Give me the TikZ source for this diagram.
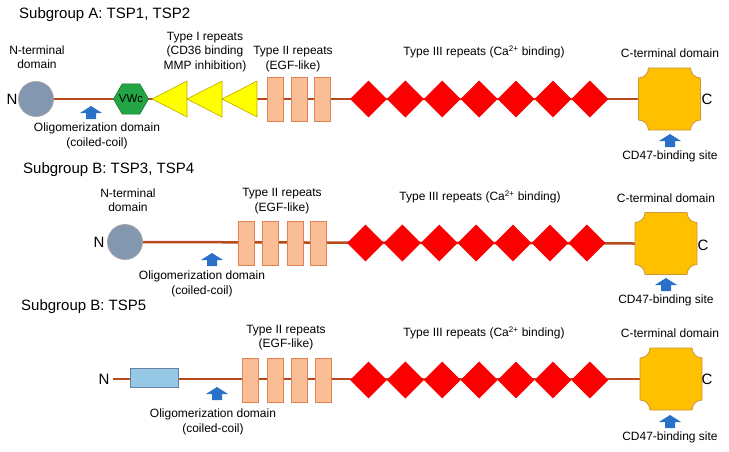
\documentclass[tikz,border=0pt]{standalone}
\usepackage{fontspec}
\setmainfont{Liberation Sans}
\usetikzlibrary{shapes.geometric,backgrounds}
\definecolor{backbone}{RGB}{184,74,30}
\definecolor{nfill}{RGB}{132,151,176}
\definecolor{ndraw}{RGB}{165,165,165}
\definecolor{egffill}{RGB}{250,190,150}
\definecolor{egfdraw}{RGB}{225,130,80}
\definecolor{cared}{RGB}{250,0,0}
\definecolor{trifill}{RGB}{255,255,0}
\definecolor{tridraw}{RGB}{190,170,0}
\definecolor{vgreen}{RGB}{34,165,68}
\definecolor{vdark}{RGB}{20,120,40}
\definecolor{cfill}{RGB}{255,192,0}
\definecolor{cdraw}{RGB}{205,150,60}
\definecolor{arrowblue}{RGB}{40,112,200}
\definecolor{lbfill}{RGB}{150,200,230}
\definecolor{lbdraw}{RGB}{100,130,160}
\newcommand\upmark[2]{\begin{scope}[shift={(#1,#2)}]\fill[arrowblue] (0,0) -- (11,7) -- (5,7) -- (5,13) -- (-5,13) -- (-5,7) -- (-11,7) -- cycle;\end{scope}}
\newcommand\typeone[2]{\begin{scope}[shift={(#1,#2)}]\filldraw[fill=trifill,draw=tridraw,line width=0.6pt] (0,0) -- (35,-18) -- (35,18) -- cycle;\end{scope}}
\newcommand\ctermshape[2]{\begin{scope}[shift={(#1,#2)}]\filldraw[fill=cfill,draw=cdraw,line width=0.8pt] (-31,-21) -- (-31,21) .. controls (-25.5,21) and (-21,25.5) .. (-21,31) -- (21,31) .. controls (21,25.5) and (25.5,21) .. (31,21) -- (31,-21) .. controls (25.5,-21) and (21,-25.5) .. (21,-31) -- (-21,-31) .. controls (-21,-25.5) and (-25.5,-21) .. cycle;\end{scope}}
\begin{document}
\begin{tikzpicture}[x=1pt,y=-1pt,
  lbl/.style={font=\fontsize{12}{14.5}\selectfont, align=center, inner sep=0pt},
  ttl/.style={font=\fontsize{15}{18}\selectfont, anchor=west, inner sep=0pt},
  term/.style={font=\fontsize{15}{18}\selectfont, inner sep=0pt},
  ndom/.style={circle, draw=ndraw, fill=nfill, line width=0.8pt, minimum size=35, inner sep=0pt},
  egf/.style={rectangle, draw=egfdraw, fill=egffill, line width=0.6pt, minimum width=16, minimum height=44, inner sep=0pt},
  ca/.style={diamond, fill=cared, minimum width=37, minimum height=37, inner sep=0pt},
  vwc/.style={regular polygon, regular polygon sides=6, minimum size=35, fill=vgreen, draw=vdark, line width=0.6pt, inner sep=0pt},
  ccore/.style={rectangle, minimum size=62, inner sep=0pt},
  backbonesty/.style={draw=backbone, line width=2.5pt}]
\useasboundingbox (0,0) rectangle (729,451);

% ---------------- Row A ----------------
\node[ttl] (tA) at (19,15) {Subgroup A: TSP1, TSP2};
\node[lbl] (ntA) at (37,57) {N-terminal\\domain};
\node[term] (NA) at (12,99) {N};
\node[ndom] (ndA) at (36,99) {};
\node[vwc] (vwA) at (131,99) {};
\node[lbl,font=\fontsize{11.5}{13}\selectfont] (vwtA) at (131,99) {VWc};
\typeone{152}{99}
\typeone{187}{99}
\typeone{222}{99}
\node[lbl] (t1A) at (205,52) {Type I repeats\\(CD36 binding\\MMP inhibition)};
\node[egf] (eA1) at (275,99) {};
\node[egf] (eA2) at (299,99) {};
\node[egf] (eA3) at (322,99) {};
\node[lbl] (t2A) at (293,59) {Type II repeats\\(EGF-like)};
\foreach \i in {0,...,6} \node[ca] (caA\i) at ({368.45+36.9*\i},99) {};
\node[lbl] (t3A) at (484,52) {Type III repeats (Ca\textsuperscript{2+} binding)};
\node[ccore] (cA) at (669.5,99) {};
\ctermshape{669.5}{99}
\node[term] (CA) at (707,99) {C};
\node[lbl] (ctA) at (670,53) {C-terminal domain};
\upmark{91}{106}
\node[lbl] (olA) at (97,136) {Oligomerization domain\\(coiled-coil)};
\upmark{670}{134}
\node[lbl] (cdA) at (670,156) {CD47-binding site};
\begin{pgfonlayer}{background}
\draw[backbonesty] (ndA.east) -- (cA.west);
\end{pgfonlayer}

% ---------------- Row B ----------------
\node[ttl] (tB) at (23,170) {Subgroup B: TSP3, TSP4};
\node[lbl] (ntB) at (128,200) {N-terminal\\domain};
\node[term] (NB) at (99,242) {N};
\node[ndom] (ndB) at (125,242) {};
\node[egf] (eB1) at (246,243.5) {};
\node[egf] (eB2) at (270.5,243.5) {};
\node[egf] (eB3) at (295,243.5) {};
\node[egf] (eB4) at (318.5,243.5) {};
\node[lbl] (t2B) at (282,201) {Type II repeats\\(EGF-like)};
\foreach \i in {0,...,6} \node[ca] (caB\i) at ({365.45+36.9*\i},243) {};
\node[lbl] (t3B) at (480,197) {Type III repeats (Ca\textsuperscript{2+} binding)};
\node[ccore] (cB) at (666,243.5) {};
\ctermshape{666}{243.5}
\node[term] (CB) at (703,245) {C};
\node[lbl] (ctB) at (666,198) {C-terminal domain};
\upmark{212}{253}
\node[lbl] (olB) at (202,284) {Oligomerization domain\\(coiled-coil)};
\upmark{666}{278}
\node[lbl] (cdB) at (666,300) {CD47-binding site};
\begin{pgfonlayer}{background}
\draw[backbonesty] (ndB.east) -- (cB.west);
\end{pgfonlayer}

% ---------------- Row C ----------------
\node[ttl] (tC) at (21,307) {Subgroup B: TSP5};
\node[term] (NC) at (104,379) {N};
\coordinate (lsC) at (113,379);
\node[rectangle, draw=lbdraw, fill=lbfill, line width=0.6pt, minimum width=48, minimum height=19, inner sep=0pt] (lbC) at (154,377.5) {};
\node[egf] (eC1) at (250.5,380) {};
\node[egf] (eC2) at (275,380) {};
\node[egf] (eC3) at (299.5,380) {};
\node[egf] (eC4) at (323,380) {};
\node[lbl] (t2C) at (286,337.5) {Type II repeats\\(EGF-like)};
\foreach \i in {0,...,6} \node[ca] (caC\i) at ({368.45+36.9*\i},380) {};
\node[lbl] (t3C) at (484,333) {Type III repeats (Ca\textsuperscript{2+} binding)};
\node[ccore] (cC) at (671,379) {};
\ctermshape{671}{379}
\node[term] (CC) at (707,379) {C};
\node[lbl] (ctC) at (670,333) {C-terminal domain};
\upmark{217}{387}
\node[lbl] (olC) at (213,422) {Oligomerization domain\\(coiled-coil)};
\upmark{670}{415}
\node[lbl] (cdC) at (670,437) {CD47-binding site};
\begin{pgfonlayer}{background}
\draw[backbonesty] (lsC) -- (cC.west);
\end{pgfonlayer}
\end{tikzpicture}
\end{document}
